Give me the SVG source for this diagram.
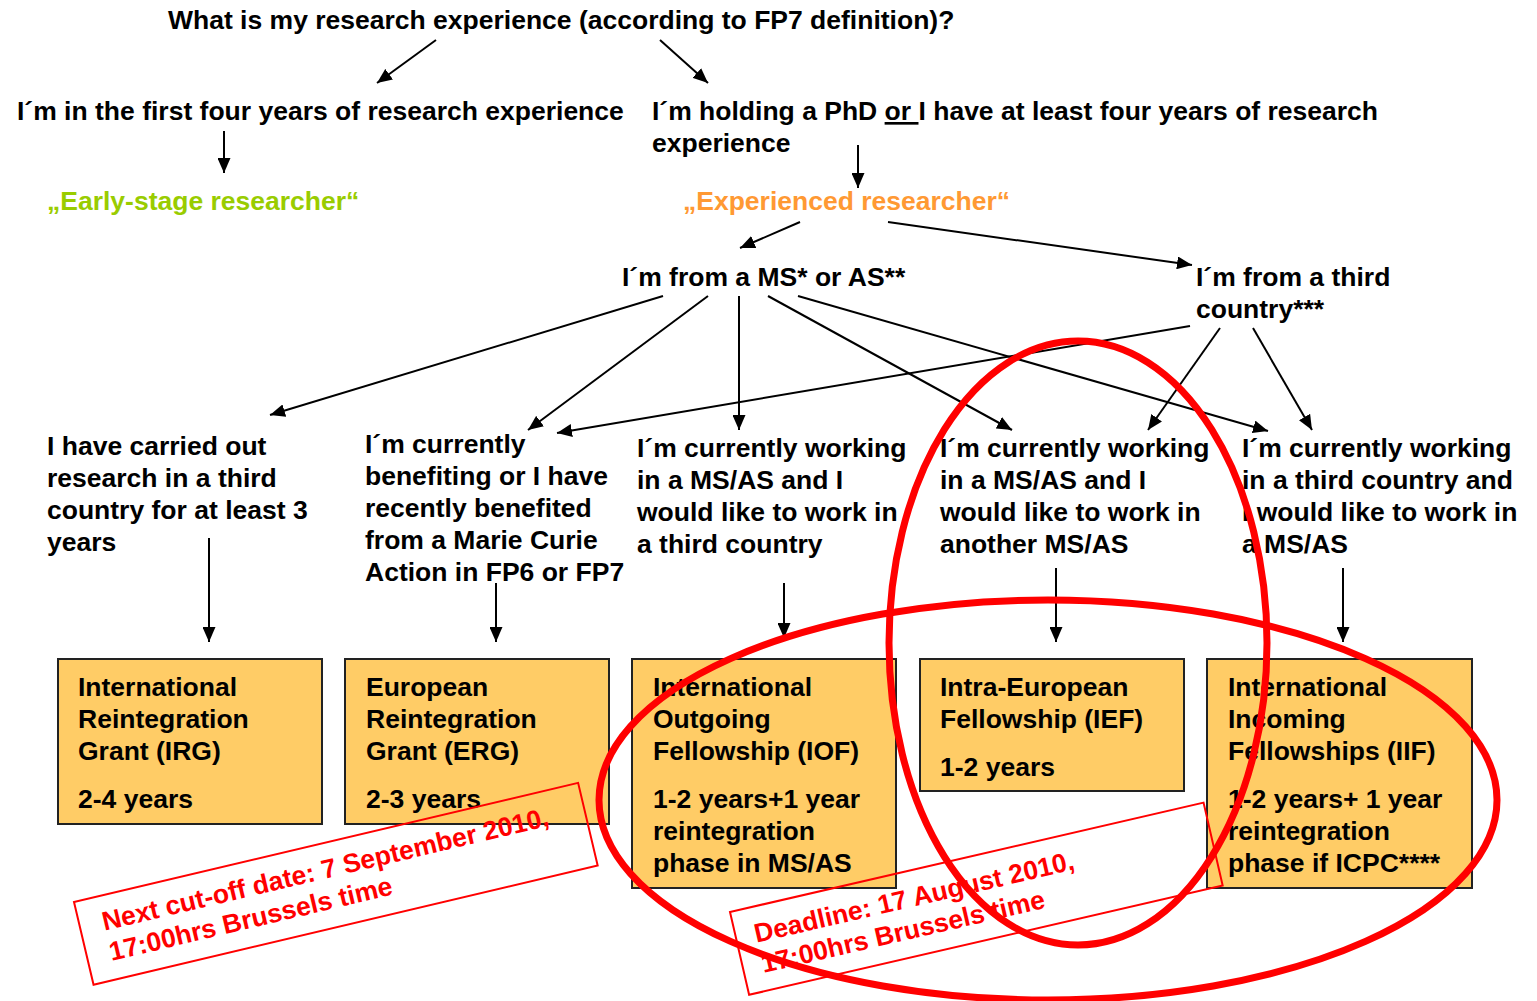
<svg xmlns="http://www.w3.org/2000/svg" width="1537" height="1001" viewBox="0 0 1537 1001">
<style>
text{font-family:"Liberation Sans",Arial,sans-serif;font-weight:bold;font-size:26.5px;fill:#000}
.green{fill:#99CC00}
.orange{fill:#FF9933}
.red{fill:#FF0000}
.box{fill:#FFCC66;stroke:#222;stroke-width:2}
.conn{stroke:#000;stroke-width:2;fill:none;marker-end:url(#ah)}
.lbl{fill:none;stroke:#FF0000;stroke-width:2}
.ring{fill:none;stroke:#FF0000;stroke-width:7}
</style>
<defs>
<marker id="ah" markerWidth="15" markerHeight="13" refX="15" refY="6.5" orient="auto" markerUnits="userSpaceOnUse"><path d="M0,0 L15,6.5 L0,13 z" fill="#000"/></marker>
</defs>
<rect width="1537" height="1001" fill="#fff"/>

<g id="q-title"><text x="168" y="29">What is my research experience (according to FP7 definition)?</text></g>
<g id="n-first4"><text x="17" y="120">I´m in the first four years of research experience</text></g>
<g id="n-phd"><text x="652" y="120">I´m holding a PhD <tspan text-decoration="underline">or </tspan>I have at least four years of research</text><text x="652" y="152">experience</text></g>
<g id="n-early"><text class="green" x="47" y="210">„Early-stage researcher“</text></g>
<g id="n-experienced"><text class="orange" x="683" y="210">„Experienced researcher“</text></g>
<g id="n-msas"><text x="622" y="286">I´m from a MS* or AS**</text></g>
<g id="n-third"><text x="1196" y="286">I´m from a third</text><text x="1196" y="318">country***</text></g>

<g id="c-3years"><text x="47" y="455">I have carried out</text><text x="47" y="487">research in a third</text><text x="47" y="519">country for at least 3</text><text x="47" y="551">years</text></g>
<g id="c-mca"><text x="365" y="453">I´m currently</text><text x="365" y="485">benefiting or I have</text><text x="365" y="517">recently benefited</text><text x="365" y="549">from a Marie Curie</text><text x="365" y="581">Action in FP6 or FP7</text></g>
<g id="c-out"><text x="637" y="457">I´m currently working</text><text x="637" y="489">in a MS/AS and I</text><text x="637" y="521">would like to work in</text><text x="637" y="553">a third country</text></g>
<g id="c-intra"><text x="940" y="457">I´m currently working</text><text x="940" y="489">in a MS/AS and I</text><text x="940" y="521">would like to work in</text><text x="940" y="553">another MS/AS</text></g>
<g id="c-in"><text x="1242" y="457">I´m currently working</text><text x="1242" y="489">in a third country and</text><text x="1242" y="521">I would like to work in</text><text x="1242" y="553">a MS/AS</text></g>

<g id="b-irg"><rect class="box" x="58" y="659" width="264" height="165"/><text x="78" y="696">International</text><text x="78" y="728">Reintegration</text><text x="78" y="760">Grant (IRG)</text><text x="78" y="808">2-4 years</text></g>
<g id="b-erg"><rect class="box" x="345" y="659" width="264" height="165"/><text x="366" y="696">European</text><text x="366" y="728">Reintegration</text><text x="366" y="760">Grant (ERG)</text><text x="366" y="808">2-3 years</text></g>
<g id="b-iof"><rect class="box" x="632" y="659" width="264" height="229"/><text x="653" y="696">International</text><text x="653" y="728">Outgoing</text><text x="653" y="760">Fellowship (IOF)</text><text x="653" y="808">1-2 years+1 year</text><text x="653" y="840">reintegration</text><text x="653" y="872">phase in MS/AS</text></g>
<g id="b-ief"><rect class="box" x="920" y="659" width="264" height="132"/><text x="940" y="696">Intra-European</text><text x="940" y="728">Fellowship (IEF)</text><text x="940" y="776">1-2 years</text></g>
<g id="b-iif"><rect class="box" x="1207" y="659" width="265" height="229"/><text x="1228" y="696">International</text><text x="1228" y="728">Incoming</text><text x="1228" y="760">Fellowships (IIF)</text><text x="1228" y="808">1-2 years+ 1 year</text><text x="1228" y="840">reintegration</text><text x="1228" y="872">phase if ICPC****</text></g>

<g id="connectors">
<line class="conn" x1="436" y1="40" x2="377" y2="83"/>
<line class="conn" x1="660" y1="40" x2="708" y2="83"/>
<line class="conn" x1="224" y1="131" x2="224" y2="173"/>
<line class="conn" x1="858" y1="145" x2="858" y2="188"/>
<line class="conn" x1="800" y1="222" x2="740" y2="248"/>
<line class="conn" x1="888" y1="222" x2="1192" y2="265"/>
<line class="conn" x1="663" y1="296" x2="270" y2="415"/>
<line class="conn" x1="708" y1="296" x2="528" y2="430"/>
<line class="conn" x1="739" y1="296" x2="739" y2="430"/>
<line class="conn" x1="768" y1="296" x2="1012" y2="430"/>
<line class="conn" x1="798" y1="296" x2="1268" y2="431"/>
<line class="conn" x1="1190" y1="326" x2="557" y2="433"/>
<line class="conn" x1="1220" y1="328" x2="1148" y2="430"/>
<line class="conn" x1="1253" y1="328" x2="1312" y2="430"/>
<line class="conn" x1="209" y1="538" x2="209" y2="642"/>
<line class="conn" x1="496" y1="583" x2="496" y2="642"/>
<line class="conn" x1="784" y1="583" x2="784" y2="638"/>
<line class="conn" x1="1056" y1="568" x2="1056" y2="642"/>
<line class="conn" x1="1343" y1="568" x2="1343" y2="642"/>
</g>

<g id="note-cutoff" transform="translate(74,902) rotate(-13.3)">
<rect class="lbl" x="0" y="0" width="518" height="85"/>
<text class="red" x="23" y="35">Next cut-off date: 7 September 2010,</text>
<text class="red" x="23" y="66">17:00hrs Brussels time</text>
</g>
<g id="note-deadline" transform="translate(730,912) rotate(-13)">
<rect class="lbl" x="0" y="0" width="486" height="85"/>
<text class="red" x="19" y="36">Deadline: 17 August 2010,</text>
<text class="red" x="19" y="67">17:00hrs Brussels time</text>
</g>

<g id="highlights">
<ellipse class="ring" cx="1048" cy="800" rx="449" ry="200"/>
<ellipse class="ring" cx="1078" cy="643" rx="189" ry="302"/>
</g>
</svg>
